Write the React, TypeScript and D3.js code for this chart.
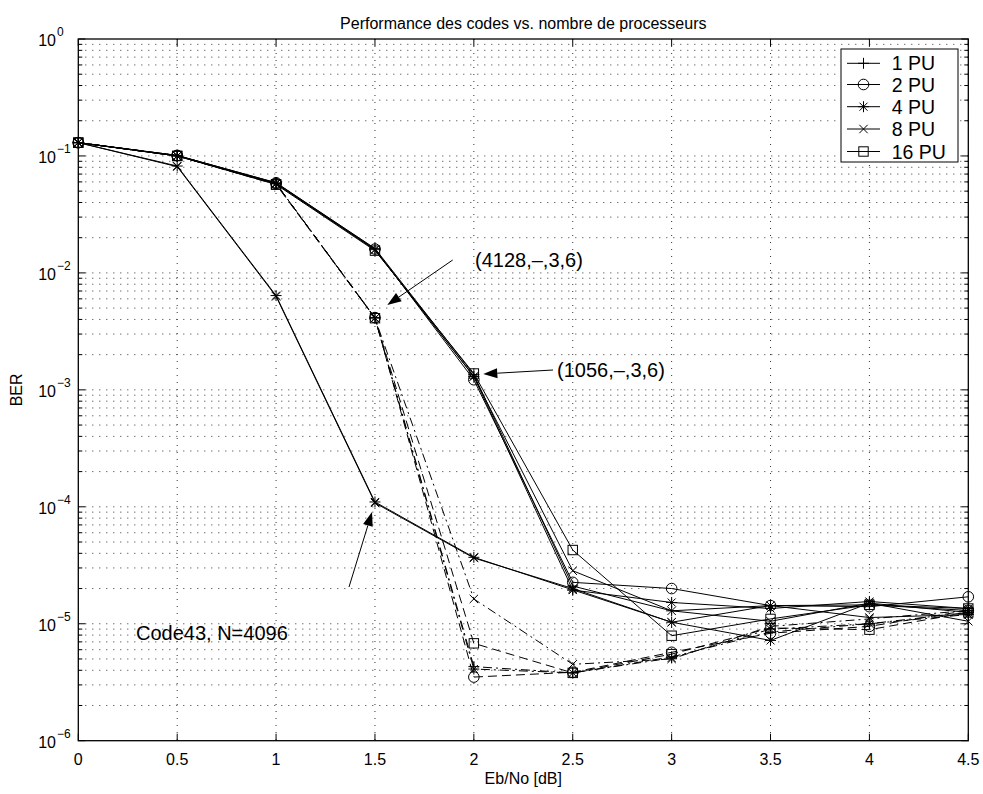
import React from "react";
import * as d3 from "d3";

// ---------- data ----------
const ebno = [0, 0.5, 1, 1.5, 2, 2.5, 3, 3.5, 4, 4.5];
const xTicks = [0, 0.5, 1, 1.5, 2, 2.5, 3, 3.5, 4, 4.5];
const yDecades = [0, -1, -2, -3, -4, -5, -6];
const puLabels = ["1 PU", "2 PU", "4 PU", "8 PU", "16 PU"];
const puMarkers = ["plus", "circle", "asterisk", "cross", "square"];

// code (1056,-,3,6) : solid
const ber1056_1 = [0.13, 0.101, 0.059, 0.0162, 1.35e-3, 2.1e-5, 1.29e-5, 1.43e-5, 1.45e-5, 1.3e-5];
const ber1056_2 = [0.13, 0.101, 0.059, 0.016, 1.22e-3, 2.26e-5, 2.0e-5, 1.43e-5, 1.4e-5, 1.7e-5];
const ber1056_4 = [0.13, 0.1, 0.058, 0.0158, 1.3e-3, 1.94e-5, 1.52e-5, 1.35e-5, 1.55e-5, 1.35e-5];
const ber1056_8 = [0.13, 0.1, 0.058, 0.0158, 1.3e-3, 2.84e-5, 1.29e-5, 1.05e-5, 1.5e-5, 1.05e-5];
const ber1056_16 = [0.13, 0.1, 0.057, 0.0155, 1.38e-3, 4.27e-5, 7.9e-6, 1.1e-5, 1.45e-5, 1.35e-5];

// code (4128,-,3,6) : dash-dot
const ber4128_1 = [0.13, 0.101, 0.058, 4.15e-3, 4.3e-6, 3.8e-6, 5.2e-6, 8.5e-6, 1.0e-5, 1.25e-5];
const ber4128_2 = [0.13, 0.101, 0.058, 4.15e-3, 3.5e-6, 3.85e-6, 5.7e-6, 8.3e-6, 9.5e-6, 1.3e-5];
const ber4128_4 = [0.13, 0.1, 0.058, 4.1e-3, 4.1e-6, 3.8e-6, 5.1e-6, 9.0e-6, 1.0e-5, 1.2e-5];
const ber4128_8 = [0.13, 0.1, 0.058, 4.1e-3, 1.63e-5, 4.5e-6, 5.0e-6, 9.5e-6, 1.1e-5, 1.3e-5];
const ber4128_16 = [0.13, 0.1, 0.057, 4.1e-3, 6.8e-6, 3.8e-6, 5.5e-6, 9.2e-6, 8.9e-6, 1.25e-5];

// Code43, N=4096 : thin solid
const berCode43_4 = [0.13, 0.082, 6.4e-3, 1.1e-4, 3.7e-5, 1.95e-5, 1.03e-5, 7.2e-6, 1.5e-5, 1.25e-5];
const berCode43_8 = [0.13, 0.081, 6.3e-3, 1.08e-4, 3.65e-5, 2.0e-5, 1.03e-5, 1.43e-5, 1.13e-5, 1.2e-5];

const titleText = "Performance des codes vs. nombre de processeurs";
const xLabel = "Eb/No [dB]";
const yLabel = "BER";

// ---------- layout ----------
const W = 983;
const H = 794;
const L = 78.3;
const R = 968.3;
const T = 39;
const B = 740.7;
const FONT = "'Liberation Sans', Arial, Helvetica, sans-serif";

const x = d3.scaleLinear().domain([0, 4.5]).range([L, R]);
const y = d3.scaleLog().domain([1e-6, 1]).range([B, T]);

type Series = { values: number[]; marker: string; dash?: string };

const DASHDOT = "9,4,2,4";
const DASHED = "9,5";

const seriesList: Series[] = [
  { values: ber4128_1, marker: "plus", dash: DASHDOT },
  { values: ber4128_2, marker: "circle", dash: DASHED },
  { values: ber4128_4, marker: "asterisk", dash: DASHDOT },
  { values: ber4128_8, marker: "cross", dash: DASHDOT },
  { values: ber4128_16, marker: "square", dash: DASHED },
  { values: ber1056_1, marker: "plus" },
  { values: ber1056_2, marker: "circle" },
  { values: ber1056_4, marker: "asterisk" },
  { values: ber1056_8, marker: "cross" },
  { values: ber1056_16, marker: "square" },
  { values: berCode43_4, marker: "asterisk" },
  { values: berCode43_8, marker: "cross" },
];

function Marker({ kind, cx, cy }: { kind: string; cx: number; cy: number }) {
  const s = 5.5;
  const p = { stroke: "#000", strokeWidth: 1, fill: "none" };
  if (kind === "plus")
    return (
      <g {...p}>
        <line x1={cx - s} x2={cx + s} y1={cy} y2={cy} />
        <line x1={cx} x2={cx} y1={cy - s} y2={cy + s} />
      </g>
    );
  if (kind === "circle") return <circle cx={cx} cy={cy} r={5.3} {...p} />;
  if (kind === "square") return <rect x={cx - 4.7} y={cy - 4.7} width={9.4} height={9.4} {...p} />;
  if (kind === "cross") {
    const c = 4.2;
    return (
      <g {...p}>
        <line x1={cx - c} x2={cx + c} y1={cy - c} y2={cy + c} />
        <line x1={cx - c} x2={cx + c} y1={cy + c} y2={cy - c} />
      </g>
    );
  }
  // asterisk
  const c = 4;
  return (
    <g {...p}>
      <line x1={cx - s} x2={cx + s} y1={cy} y2={cy} />
      <line x1={cx} x2={cx} y1={cy - s} y2={cy + s} />
      <line x1={cx - c} x2={cx + c} y1={cy - c} y2={cy + c} />
      <line x1={cx - c} x2={cx + c} y1={cy + c} y2={cy - c} />
    </g>
  );
}

function Arrow({ x1, y1, x2, y2 }: { x1: number; y1: number; x2: number; y2: number }) {
  const ang = Math.atan2(y2 - y1, x2 - x1);
  const len = 14;
  const half = 5;
  const bx = x2 - len * Math.cos(ang);
  const by = y2 - len * Math.sin(ang);
  const px = -Math.sin(ang) * half;
  const py = Math.cos(ang) * half;
  return (
    <g>
      <line x1={x1} y1={y1} x2={bx} y2={by} stroke="#000" strokeWidth={1} />
      <polygon points={`${x2},${y2} ${bx + px},${by + py} ${bx - px},${by - py}`} fill="#000" />
    </g>
  );
}

export default function App() {
  const lineGen = d3
    .line<number>()
    .x((_, i) => x(ebno[i]))
    .y((d) => y(d));

  const minorVals: number[] = [];
  for (let e = -6; e < 0; e++) for (let m = 2; m <= 9; m++) minorVals.push(m * Math.pow(10, e));
  const majorVals = yDecades.map((e) => Math.pow(10, e));

  const gridProps = { stroke: "#333", strokeWidth: 1, strokeDasharray: "1,6" };

  return (
    <svg
      width={W}
      height={H}
      style={{ position: "absolute", left: 0, top: 0, background: "#fff" }}
      fontFamily={FONT}
    >
      <rect x={0} y={0} width={W} height={H} fill="#fff" />
      {/* grid */}
      <g>
        {xTicks.slice(1, -1).map((t) => (
          <line key={"gx" + t} x1={x(t)} x2={x(t)} y1={T} y2={B} {...gridProps} />
        ))}
        {[...minorVals, ...majorVals.slice(1, -1)].map((v, i) => (
          <line key={"gy" + i} x1={L} x2={R} y1={y(v)} y2={y(v)} {...gridProps} />
        ))}
      </g>
      {/* ticks */}
      <g stroke="#000" strokeWidth={1}>
        {xTicks.map((t) => (
          <g key={"tx" + t}>
            <line x1={x(t)} x2={x(t)} y1={B} y2={B - 7} />
            <line x1={x(t)} x2={x(t)} y1={T} y2={T + 7} />
          </g>
        ))}
        {majorVals.map((v, i) => (
          <g key={"ty" + i}>
            <line x1={L} x2={L + 7} y1={y(v)} y2={y(v)} />
            <line x1={R} x2={R - 7} y1={y(v)} y2={y(v)} />
          </g>
        ))}
        {minorVals.map((v, i) => (
          <g key={"tm" + i}>
            <line x1={L} x2={L + 4} y1={y(v)} y2={y(v)} />
            <line x1={R} x2={R - 4} y1={y(v)} y2={y(v)} />
          </g>
        ))}
      </g>
      {/* series */}
      <g>
        {seriesList.map((s, i) => (
          <path
            key={"s" + i}
            d={lineGen(s.values) || ""}
            fill="none"
            stroke="#000"
            strokeWidth={1}
            strokeDasharray={s.dash}
          />
        ))}
        {seriesList.map((s, i) =>
          s.values.map((v, j) => (
            <Marker key={"m" + i + "-" + j} kind={s.marker} cx={x(ebno[j])} cy={y(v)} />
          ))
        )}
      </g>
      {/* axes box */}
      <rect x={L} y={T} width={R - L} height={B - T} fill="none" stroke="#000" strokeWidth={1.3} />
      {/* x tick labels */}
      <g fontSize={16} textAnchor="middle" fill="#000">
        {xTicks.map((t) => (
          <text key={"lx" + t} x={x(t)} y={765}>
            {String(t)}
          </text>
        ))}
      </g>
      {/* y tick labels */}
      <g fill="#000">
        {yDecades.map((e) => (
          <g key={"ly" + e}>
            <text x={56} y={y(Math.pow(10, e)) + 7} fontSize={16} textAnchor="end">
              10
            </text>
            <text x={57} y={y(Math.pow(10, e)) - 3} fontSize={12} textAnchor="start">
              {e === 0 ? "0" : "\u2212" + String(-e)}
            </text>
          </g>
        ))}
      </g>
      {/* title and labels */}
      <text x={(L + R) / 2} y={29} fontSize={16} textAnchor="middle">
        {titleText}
      </text>
      <text x={(L + R) / 2} y={784} fontSize={16} textAnchor="middle">
        {xLabel}
      </text>
      <text
        x={0}
        y={0}
        fontSize={16}
        textAnchor="middle"
        transform={`translate(22,${(T + B) / 2}) rotate(-90)`}
      >
        {yLabel}
      </text>
      {/* annotations */}
      <Arrow x1={452.7} y1={260} x2={387.3} y2={305} />
      <text x={475} y={267} fontSize={20}>
        (4128,–,3,6)
      </text>
      <Arrow x1={553} y1={370} x2={483.3} y2={374} />
      <text x={557} y={377} fontSize={20}>
        (1056,–,3,6)
      </text>
      <Arrow x1={349} y1={587} x2={372} y2={512} />
      <text x={136} y={640} fontSize={20}>
        Code43, N=4096
      </text>
      {/* legend */}
      <g>
        <rect x={841} y={49} width={117} height={113} fill="#fff" stroke="#000" strokeWidth={1} />
        {puLabels.map((lab, i) => {
          const cy = [63.3, 84.5, 106.7, 129, 151.5][i];
          return (
            <g key={"lg" + i}>
              <line x1={847} x2={880} y1={cy} y2={cy} stroke="#000" strokeWidth={1} />
              <Marker kind={puMarkers[i]} cx={863.5} cy={cy} />
              <text x={891.7} y={cy + 7} fontSize={19.5}>
                {lab}
              </text>
            </g>
          );
        })}
      </g>
    </svg>
  );
}
